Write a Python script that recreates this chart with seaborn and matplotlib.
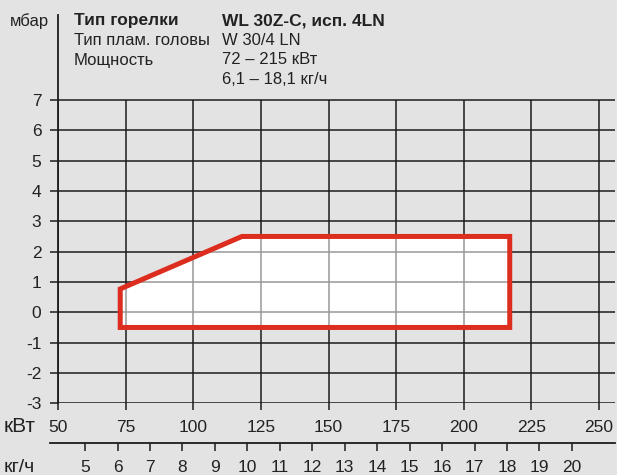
#!/usr/bin/env python3

import seaborn as sns
import matplotlib.pyplot as plt

# working field of the burner (kW, mbar)
field_kw = [73, 73, 118, 217, 217]
field_mbar = [-0.5, 0.77, 2.5, 2.5, -0.5]

kw_ticks = [50, 75, 100, 125, 150, 175, 200, 225, 250]
mbar_ticks = [-3, -2, -1, 0, 1, 2, 3, 4, 5, 6, 7]
kgh_ticks = list(range(5, 21))
KW_PER_KGH = 12.0

rows = [
    ("Тип горелки", "WL 30Z-C, исп. 4LN", "bold"),
    ("Тип плам. головы", "W 30/4 LN", "normal"),
    ("Мощность", "72 – 215 кВт", "normal"),
    ("", "6,1 – 18,1 кг/ч", "normal"),
]

BG = "#e3e3e3"
INK = "#1c1c1c"
TXT = "#222222"
RED = "#dc2d1e"

sns.set_theme(style="white")
plt.rcParams["font.family"] = ["Liberation Sans", "DejaVu Sans"]
plt.rcParams["axes.unicode_minus"] = False

fig = plt.figure(figsize=(6.17, 4.75), dpi=100, facecolor=BG)
ax = fig.add_axes([58 / 617, 1 - 403.3 / 475, 557 / 617, (403.3 - 15) / 475])
ax.set_facecolor(BG)

xmax = 50 + 557 / 2.705
ax.set_xlim(50, xmax)
ax.set_ylim(-3, 9.8)

# white working field below the grid, then a veil over it so the lines turn grey
ax.fill(field_kw, field_mbar, facecolor="white", zorder=0.5)

for y in mbar_ticks:
    ax.axhline(y, color=INK, lw=1.1, zorder=1)
ax.vlines(kw_ticks, -3, 7, color=INK, lw=1.1, zorder=1)

ax.fill(field_kw, field_mbar, facecolor="white", alpha=0.55, zorder=2)
ax.fill(field_kw, field_mbar, facecolor="none", edgecolor=RED, lw=3.6,
        joinstyle="miter", zorder=3)

for s in ["top", "right", "bottom"]:
    ax.spines[s].set_visible(False)
ax.spines["left"].set_color(INK)
ax.spines["left"].set_linewidth(1.3)

ax.set_xticks(kw_ticks)
ax.set_yticks(mbar_ticks)
ax.tick_params(axis="x", direction="out", length=5, width=1.1, color=INK,
               pad=7, labelsize=12.5, labelcolor=TXT, bottom=True)
ax.tick_params(axis="y", direction="out", length=6, width=1.1, color=INK,
               pad=6, labelsize=12.5, labelcolor=TXT, left=True)

sec = ax.secondary_xaxis(-0.103, functions=(lambda v: v / KW_PER_KGH,
                                            lambda v: v * KW_PER_KGH))
sec.set_xticks(kgh_ticks)
sec.spines["bottom"].set_color(INK)
sec.spines["bottom"].set_linewidth(1.3)
sec.spines["bottom"].set_bounds(47 / KW_PER_KGH, xmax / KW_PER_KGH)
sec.tick_params(direction="out", length=6, width=1.1, color=INK, pad=6,
                labelsize=12.5, labelcolor=TXT)

# axis units
fig.text(49 / 617, 1 - 21 / 475, "мбар", ha="right", va="center",
         fontsize=12, color=TXT)
fig.text(4 / 617, 1 - 426 / 475, "кВт", ha="left", va="center",
         fontsize=15, color=TXT)
fig.text(4 / 617, 1 - 467 / 475, "кг/ч", ha="left", va="center",
         fontsize=14, color=TXT)

# header block
for i, (label, value, weight) in enumerate(rows):
    yy = 1 - (21 + i * 19.5) / 475
    size = 12.5 if weight == "bold" else 12
    fig.text(74 / 617, yy, label, ha="left", va="center", fontsize=size,
             fontweight=weight, color=TXT)
    fig.text(222 / 617, yy, value, ha="left", va="center", fontsize=size,
             fontweight=weight, color=TXT)

fig.savefig("out.png", dpi=100, facecolor=BG)
